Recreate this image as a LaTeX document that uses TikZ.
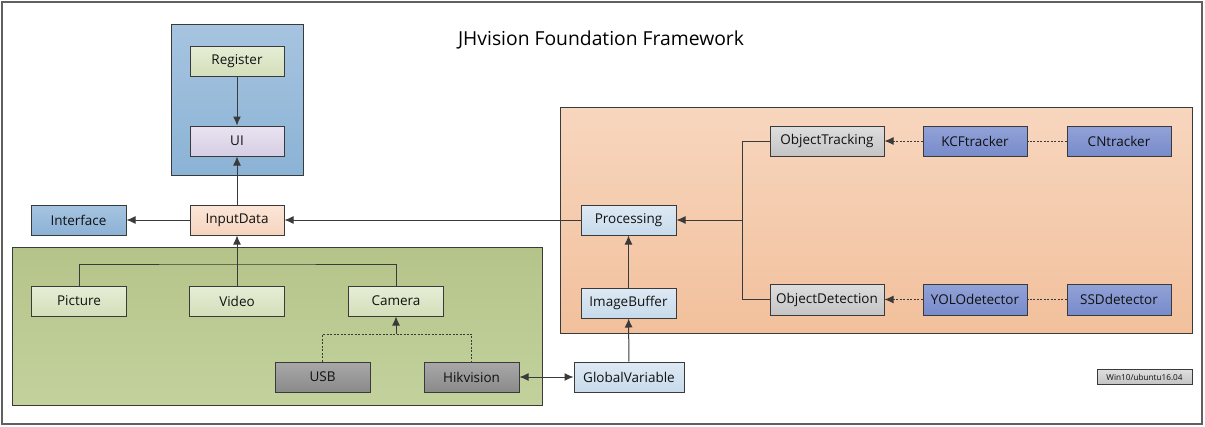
\documentclass[tikz,border=0pt]{standalone}
\usepackage{fontspec}
\setmainfont{Open Sans}
\usetikzlibrary{arrows.meta}
\definecolor{linec}{HTML}{3A3A3A}
\definecolor{txtc}{HTML}{111111}
\tikzset{
  box/.style={draw=linec, line width=1pt, minimum width=94pt, minimum height=30pt, inner sep=0pt,
    font=\fontsize{13.5}{15}\selectfont, text=txtc},
  group/.style={draw=linec, line width=1pt},
  conn/.style={draw=linec, line width=1pt},
  arr/.style={conn, -{Latex[length=9pt,width=8pt]}},
  arrb/.style={conn, {Latex[length=9pt,width=8pt]}-{Latex[length=9pt,width=8pt]}},
  dsh/.style={dash pattern=on 2pt off 1.5pt},
  greenbox/.style={box, top color={rgb,255:red,230;green,237;blue,214}, bottom color={rgb,255:red,212;green,223;blue,186}},
  lavbox/.style={box, top color={rgb,255:red,232;green,227;blue,241}, bottom color={rgb,255:red,214;green,206;blue,228}},
  bluebox/.style={box, top color={rgb,255:red,166;green,196;blue,224}, bottom color={rgb,255:red,140;green,178;blue,214}},
  peachbox/.style={box, top color={rgb,255:red,252;green,230;blue,216}, bottom color={rgb,255:red,245;green,212;blue,190}},
  graybox/.style={box, top color={rgb,255:red,168;green,168;blue,168}, bottom color={rgb,255:red,138;green,138;blue,138}},
  lbluebox/.style={box, top color={rgb,255:red,222;green,233;blue,244}, bottom color={rgb,255:red,199;green,218;blue,235}},
  lgraybox/.style={box, top color={rgb,255:red,222;green,222;blue,222}, bottom color={rgb,255:red,196;green,196;blue,196}},
  purplebox/.style={box, top color={rgb,255:red,146;green,162;blue,216}, bottom color={rgb,255:red,120;green,139;blue,202}},
}
\begin{document}
\begin{tikzpicture}[x=1pt,y=-1pt]
\useasboundingbox (0,0) rectangle (1205,426);
\fill[white] (0,0) rectangle (1205,426);
\draw[draw=gray!75!black, line width=1.6pt] (2,2) rectangle (1202,424);

% title
\node[font=\fontsize{19.3}{21}\selectfont, text=black] (title) at (601,40) {JHvision Foundation Framework};

% groups
\path[group, top color={rgb,255:red,166;green,196;blue,224}, bottom color={rgb,255:red,139;green,179;blue,213}] (171,24) rectangle (303,175);
\path[group, top color={rgb,255:red,180;green,196;blue,137}, bottom color={rgb,255:red,195;green,210;blue,157}] (12,247) rectangle (542,405);
\path[group, top color={rgb,255:red,247;green,214;blue,190}, bottom color={rgb,255:red,242;green,192;blue,156}] (560,107) rectangle (1192,333);

% nodes
\node[greenbox] (Register) at (237,61) {Register};
\node[lavbox] (UI) at (237,141) {UI};
\node[bluebox, minimum width=95pt] (Interface) at (78.5,220) {Interface};
\node[peachbox] (InputData) at (237,220) {InputData};
\node[greenbox, minimum width=95pt] (Picture) at (79,301) {Picture};
\node[greenbox, minimum width=95pt] (Video) at (237,301) {Video};
\node[greenbox, minimum width=95pt] (Camera) at (396,301) {Camera};
\node[graybox, minimum width=95pt] (USB) at (322.5,377) {USB};
\node[graybox, minimum width=95pt] (Hikvision) at (471.5,377) {Hikvision};
\node[lbluebox, minimum width=95pt] (Processing) at (628.5,220) {Processing};
\node[lbluebox, minimum width=95pt] (ImageBuffer) at (628.5,303) {ImageBuffer};
\node[lbluebox, minimum width=110pt] (GlobalVariable) at (629,377) {GlobalVariable};
\node[lgraybox, minimum width=114pt] (ObjectTracking) at (827,141) {ObjectTracking};
\node[lgraybox, minimum width=114pt, minimum height=31pt] (ObjectDetection) at (827,299.5) {ObjectDetection};
\node[purplebox, minimum width=104pt] (KCFtracker) at (975,141) {KCFtracker};
\node[purplebox, minimum width=104pt] (CNtracker) at (1119,141) {CNtracker};
\node[purplebox, minimum width=104pt, minimum height=31pt] (YOLOdetector) at (975,299.5) {YOLOdetector};
\node[purplebox, minimum width=104pt, minimum height=31pt] (SSDdetector) at (1119,299.5) {SSDdetector};
\node[lgraybox, minimum width=95pt, minimum height=15pt, line width=0.8pt, font=\fontsize{8.2}{9}\selectfont] (Win) at (1144.5,377) {Win10/ubuntu16.04};

% coordinates
\coordinate (jt) at (237,264);
\coordinate (jc) at (396,334);
\coordinate (jp) at (742.5,220);

% connectors
\draw[arr] (Register) -- (UI);
\draw[arr] (InputData) -- (UI);
\draw[arr] (InputData) -- (Interface);
\draw[arr] (Processing) -- (InputData);
\draw[arr] (Video) -- (InputData);
\draw[conn] (Picture.north) |- (jt) -| (Camera.north);
\draw[conn, dsh] (USB.north) |- (jc) -| (Hikvision.north);
\draw[arr] (jc) -- (Camera.south);
\draw[arrb] (Hikvision) -- (GlobalVariable);
\draw[arr] (GlobalVariable) -- (ImageBuffer);
\draw[arr] (ImageBuffer) -- (Processing);
\draw[conn] (ObjectTracking.west) -| (jp);
\draw[conn] (ObjectDetection.west) -| (jp);
\draw[arr] (jp) -- (Processing.east);
\draw[arr, dsh] (KCFtracker) -- (ObjectTracking);
\draw[conn, dsh] (CNtracker) -- (KCFtracker);
\draw[arr, dsh] (YOLOdetector) -- (ObjectDetection);
\draw[conn, dsh] (SSDdetector) -- (YOLOdetector);
\end{tikzpicture}
\end{document}
